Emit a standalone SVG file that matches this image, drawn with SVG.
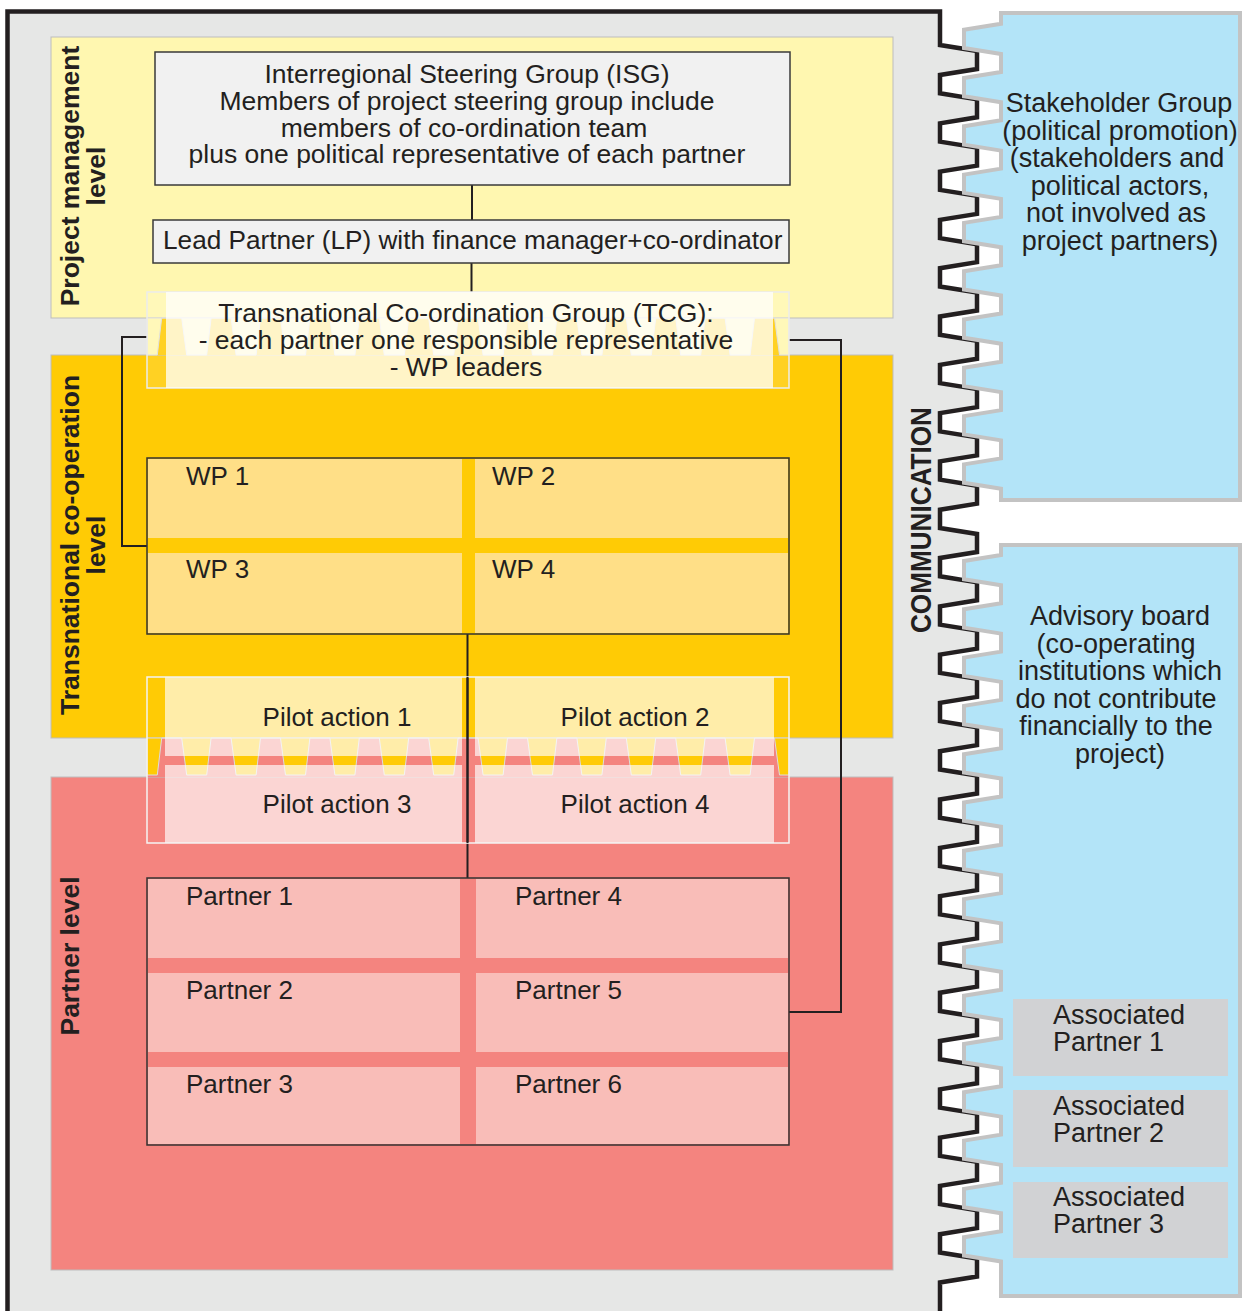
<svg xmlns="http://www.w3.org/2000/svg" width="1242" height="1311" viewBox="0 0 1242 1311">
<style>
text{font-family:"Liberation Sans",Arial,sans-serif;fill:#231f20}
.m{font-size:26.5px;text-anchor:middle}
.c{font-size:26px}
.cm{font-size:26px;text-anchor:middle}
.r{font-size:27px;text-anchor:middle}
.ra{font-size:27px}
.lbl{font-size:26.5px;font-weight:bold;text-anchor:middle}
.conn{fill:none;stroke:#231f20;stroke-width:2}
.panel{stroke:#bdbdbd;stroke-width:1}
.box{fill:#f1f1f1;stroke:#3a3a3a;stroke-width:1.5}
.grid{stroke:#333;stroke-width:1.5}
.wp{fill:#ffdf87}
.pt{fill:#f9bdb8}
.ov{fill:#fff;fill-opacity:0.66}
.blue{fill:#b3e4f8;stroke:#c3c3c3;stroke-width:4}
.ap{fill:#d1d2d4}
.teeth{stroke:#dcdcdc;stroke-width:1}
</style>
<rect width="1242" height="1311" fill="#fff"/>
<g id="communication-frame">
<path fill="#e6e7e6" d="M7.5,11.5 H940 V45 l37,6 v18 l-37,6 v18.3 l37,6 v18 l-37,6 v18.3 l37,6 v18 l-37,6 v18.3 l37,6 v18 l-37,6 v18.3 l37,6 v18 l-37,6 v18.3 l37,6 v18 l-37,6 v18.3 l37,6 v18 l-37,6 v18.3 l37,6 v18 l-37,6 v18.3 l37,6 v18 l-37,6 v18.3 l37,6 v18 l-37,6 v18.3 l37,6 v18 l-37,6 v18.3 l37,6 v18 l-37,6 v18.3 l37,6 v18 l-37,6 v18.3 l37,6 v18 l-37,6 v18.3 l37,6 v18 l-37,6 v18.3 l37,6 v18 l-37,6 v18.3 l37,6 v18 l-37,6 v18.3 l37,6 v18 l-37,6 v18.3 l37,6 v18 l-37,6 v18.3 l37,6 v18 l-37,6 v18.3 l37,6 v18 l-37,6 v18.3 l37,6 v18 l-37,6 v18.3 l37,6 v18 l-37,6 v18.3 l37,6 v18 l-37,6 v18.3 l37,6 v18 l-37,6 v18.3 l37,6 v18 l-37,6 v18.3 V1311 H7.5 Z"/>
<path fill="none" stroke="#231f20" stroke-width="4.5" d="M7.5,1311 V11.5 H940 V45 l37,6 v18 l-37,6 v18.3 l37,6 v18 l-37,6 v18.3 l37,6 v18 l-37,6 v18.3 l37,6 v18 l-37,6 v18.3 l37,6 v18 l-37,6 v18.3 l37,6 v18 l-37,6 v18.3 l37,6 v18 l-37,6 v18.3 l37,6 v18 l-37,6 v18.3 l37,6 v18 l-37,6 v18.3 l37,6 v18 l-37,6 v18.3 l37,6 v18 l-37,6 v18.3 l37,6 v18 l-37,6 v18.3 l37,6 v18 l-37,6 v18.3 l37,6 v18 l-37,6 v18.3 l37,6 v18 l-37,6 v18.3 l37,6 v18 l-37,6 v18.3 l37,6 v18 l-37,6 v18.3 l37,6 v18 l-37,6 v18.3 l37,6 v18 l-37,6 v18.3 l37,6 v18 l-37,6 v18.3 l37,6 v18 l-37,6 v18.3 l37,6 v18 l-37,6 v18.3 l37,6 v18 l-37,6 v18.3 l37,6 v18 l-37,6 v18.3 l37,6 v18 l-37,6 v18.3 l37,6 v18 l-37,6 v18.3 V1311"/>
<text class="lbl" font-size="29" transform="translate(930.5,520) rotate(-90)" style="font-size:29px" textLength="226" lengthAdjust="spacingAndGlyphs">COMMUNICATION</text>
</g>
<g id="level-panels">
<rect class="panel" x="51" y="37" width="842" height="281" fill="#fff7b0"/>
<rect class="panel" x="51" y="355" width="842" height="383" fill="#ffcb05"/>
<rect class="panel" x="51" y="777" width="842" height="493" fill="#f4847f"/>
<text class="lbl" transform="translate(78.5,176) rotate(-90)">Project management</text>
<text class="lbl" transform="translate(105,176) rotate(-90)">level</text>
<text class="lbl" transform="translate(78.5,545) rotate(-90)">Transnational co-operation</text>
<text class="lbl" transform="translate(105,545) rotate(-90)">level</text>
<text class="lbl" transform="translate(78.5,956) rotate(-90)">Partner level</text>
</g>
<g id="teeth-bands">
<rect x="147" y="318" width="642" height="37" fill="#ffcb05"/>
<path class="teeth" fill="#fff7b0" d="M147,318 V355 H157.3 L161.7,318 h20 l5,37 h20 l4.4,-37 h20 l5,37 h20 l4.4,-37 h20 l5,37 h20 l4.4,-37 h20 l5,37 h20 l4.4,-37 h20 l5,37 h20 l4.4,-37 h20 l5,37 h20 l4.4,-37 h20 l5,37 h20 l4.4,-37 h20 l5,37 h20 l4.4,-37 h20 l5,37 h20 l4.4,-37 h20 l5,37 h20 l4.4,-37 h20 l5,37 h20 l4.4,-37 h20 l5,37 h20 l4.4,-37 h20 l5,37 H789 V318 Z"/>
<rect x="147" y="738" width="642" height="39" fill="#f4847f"/>
<path class="teeth" fill="#ffcb05" d="M147,738 V775 H157.3 L161.7,738 h20 l5,37 h20 l4.4,-37 h20 l5,37 h20 l4.4,-37 h20 l5,37 h20 l4.4,-37 h20 l5,37 h20 l4.4,-37 h20 l5,37 h20 l4.4,-37 h20 l5,37 h20 l4.4,-37 h20 l5,37 h20 l4.4,-37 h20 l5,37 h20 l4.4,-37 h20 l5,37 h20 l4.4,-37 h20 l5,37 h20 l4.4,-37 h20 l5,37 h20 l4.4,-37 h20 l5,37 h20 l4.4,-37 h20 l5,37 H789 V738 Z"/>
</g>
<g id="connectors">
<path class="conn" d="M472,185 V220"/>
<path class="conn" d="M471.5,263 V292"/>
<path class="conn" d="M147,337 H122 V546 H147"/>
<path class="conn" d="M789,340 H841 V1012 H789"/>
<path class="conn" d="M467.5,634 V878"/>
</g>
<g id="isg">
<rect class="box" x="155" y="52" width="635" height="133"/>
<text class="m" x="467" y="83">Interregional Steering Group (ISG)</text>
<text class="m" x="467" y="110">Members of project steering group include</text>
<text class="m" x="464" y="137">members of co-ordination team</text>
<text class="m" x="467" y="163">plus one political representative of each partner</text>
</g>
<g id="lead-partner">
<rect class="box" x="153" y="220" width="636" height="43"/>
<text x="163" y="249" style="font-size:26.2px">Lead Partner (LP) with finance manager+co-ordinator</text>
</g>
<g id="tcg">
<rect x="147" y="292" width="642" height="96" fill="#fff" fill-opacity="0.12" stroke="#ececec" stroke-width="1.5"/>
<rect x="166" y="292" width="607" height="96" fill="#fff" fill-opacity="0.75"/>
<text class="m" x="466" y="322">Transnational Co-ordination Group (TCG):</text>
<text class="m" x="466" y="349">- each partner one responsible representative</text>
<text class="m" x="466" y="376">- WP leaders</text>
</g>
<g id="work-packages">
<rect class="grid" x="147" y="458" width="642" height="176" fill="#ffcb05"/>
<rect class="wp" x="148" y="459" width="314" height="79"/>
<rect class="wp" x="475" y="459" width="313" height="79"/>
<rect class="wp" x="148" y="553" width="314" height="80"/>
<rect class="wp" x="475" y="553" width="313" height="80"/>
<text class="c" x="186" y="485">WP 1</text>
<text class="c" x="492" y="485">WP 2</text>
<text class="c" x="186" y="578">WP 3</text>
<text class="c" x="492" y="578">WP 4</text>
</g>
<g id="pilot-actions">
<rect class="ov" x="165" y="677" width="297" height="79"/>
<rect class="ov" x="475" y="677" width="299" height="79"/>
<rect class="ov" x="165" y="765" width="297" height="78"/>
<rect class="ov" x="475" y="765" width="299" height="78"/>
<rect x="147" y="677" width="642" height="166" fill="none" stroke="#f4f4f4" stroke-width="1.5"/>
<path d="M467.5,677 V843" stroke="#231f20" stroke-width="2"/>
<text class="cm" x="337" y="726">Pilot action 1</text>
<text class="cm" x="635" y="726">Pilot action 2</text>
<text class="cm" x="337" y="813">Pilot action 3</text>
<text class="cm" x="635" y="813">Pilot action 4</text>
</g>
<g id="partners">
<rect class="grid" x="147" y="878" width="642" height="267" fill="#f4847f"/>
<rect class="pt" x="148" y="879" width="312" height="79"/>
<rect class="pt" x="476" y="879" width="312" height="79"/>
<rect class="pt" x="148" y="973" width="312" height="79"/>
<rect class="pt" x="476" y="973" width="312" height="79"/>
<rect class="pt" x="148" y="1067" width="312" height="77"/>
<rect class="pt" x="476" y="1067" width="312" height="77"/>
<text class="c" x="186" y="905">Partner 1</text>
<text class="c" x="186" y="999">Partner 2</text>
<text class="c" x="186" y="1093">Partner 3</text>
<text class="c" x="515" y="905">Partner 4</text>
<text class="c" x="515" y="999">Partner 5</text>
<text class="c" x="515" y="1093">Partner 6</text>
</g>
<g id="stakeholder-group">
<path class="blue" d="M1240,13 H1001 V23.7 l-37,6 v18.3 l37,6 v18 l-37,6 v18.3 l37,6 v18 l-37,6 v18.3 l37,6 v18 l-37,6 v18.3 l37,6 v18 l-37,6 v18.3 l37,6 v18 l-37,6 v18.3 l37,6 v18 l-37,6 v18.3 l37,6 v18 l-37,6 v18.3 l37,6 v18 l-37,6 v18.3 l37,6 v18 l-37,6 v18.3 l37,6 V500 H1240 Z"/>
<text class="r" x="1119" y="112">Stakeholder Group</text>
<text class="r" x="1120" y="139.5">(political promotion)</text>
<text class="r" x="1117" y="167">(stakeholders and</text>
<text class="r" x="1120" y="194.5">political actors,</text>
<text class="r" x="1116" y="222">not involved as</text>
<text class="r" x="1120" y="249.5">project partners)</text>
</g>
<g id="advisory-board">
<path class="blue" d="M1240,545 H1001 V555 l-37,6 v18.3 l37,6 v18 l-37,6 v18.3 l37,6 v18 l-37,6 v18.3 l37,6 v18 l-37,6 v18.3 l37,6 v18 l-37,6 v18.3 l37,6 v18 l-37,6 v18.3 l37,6 v18 l-37,6 v18.3 l37,6 v18 l-37,6 v18.3 l37,6 v18 l-37,6 v18.3 l37,6 v18 l-37,6 v18.3 l37,6 v18 l-37,6 v18.3 l37,6 v18 l-37,6 v18.3 l37,6 v18 l-37,6 v18.3 l37,6 v18 l-37,6 v18.3 l37,6 v18 l-37,6 v18.3 l37,6 V1296 H1240 Z"/>
<text class="r" x="1120" y="625">Advisory board</text>
<text class="r" x="1116" y="652.5">(co-operating</text>
<text class="r" x="1120" y="680">institutions which</text>
<text class="r" x="1116" y="707.5">do not contribute</text>
<text class="r" x="1116" y="735">financially to the</text>
<text class="r" x="1120" y="762.5">project)</text>
</g>
<g id="associated-partner-1">
<rect class="ap" x="1013" y="999" width="215" height="77"/>
<text class="ra" x="1053" y="1024">Associated</text>
<text class="ra" x="1053" y="1051">Partner 1</text>
</g>
<g id="associated-partner-2">
<rect class="ap" x="1013" y="1090" width="215" height="77"/>
<text class="ra" x="1053" y="1115">Associated</text>
<text class="ra" x="1053" y="1142">Partner 2</text>
</g>
<g id="associated-partner-3">
<rect class="ap" x="1013" y="1182" width="215" height="76"/>
<text class="ra" x="1053" y="1206">Associated</text>
<text class="ra" x="1053" y="1233">Partner 3</text>
</g>
</svg>
